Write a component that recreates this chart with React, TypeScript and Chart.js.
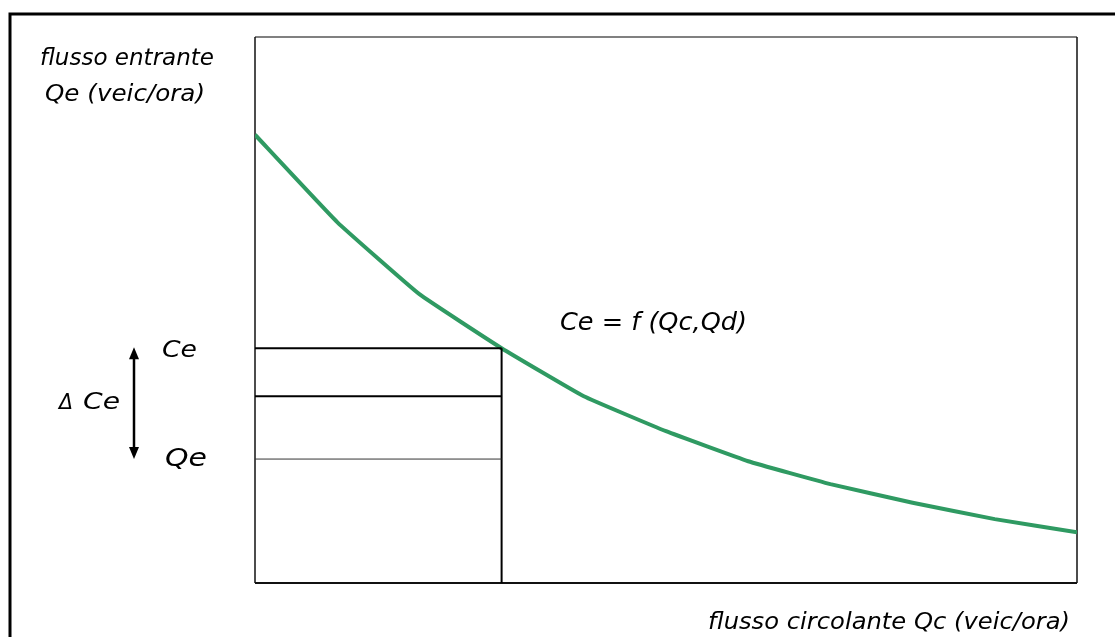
import React, { useEffect, useRef } from "react";
import { Chart, registerables } from "chart.js";

Chart.register(...registerables);

// Data
const qcSteps = [0, 1, 2, 3, 4, 5, 6, 7, 8, 9, 10];
const capacityCurve = [82.1, 66.1, 52.9, 43.0, 34.2, 27.8, 22.3, 18.1, 14.7, 11.7, 9.3];
const qcOperating = 3;
const ceValue = 43.0;
const midValue = 34.2;
const qeValue = 22.7;

const yAxisTitle = ["flusso entrante", "Qe (veic/ora)"];
const xAxisTitle = "flusso circolante Qc (veic/ora)";
const formulaLabel = "Ce = f (Qc,Qd)";
const ceLabel = "Ce";
const qeLabel = "Qe";
const deltaLabel = "ΔCe";

const GREEN = "#2f9a62";
const FONT_FAMILY = '"DejaVu Sans", sans-serif';

function drawFitted(ctx: CanvasRenderingContext2D, text: string, x: number, y: number, w: number, size: number) {
  ctx.save();
  ctx.font = `italic ${size}px ${FONT_FAMILY}`;
  const natural = ctx.measureText(text).width;
  ctx.translate(x, y);
  ctx.scale(w / natural, 1);
  ctx.textBaseline = "alphabetic";
  ctx.textAlign = "left";
  ctx.fillStyle = "#000";
  ctx.fillText(text, 0, 0);
  ctx.restore();
}

const framePlugin = {
  id: "framePlugin",
  beforeDatasetsDraw(chart: any) {
    const { ctx, chartArea } = chart;
    const { left, top, right, bottom } = chartArea;
    ctx.save();
    ctx.strokeStyle = "#808080";
    ctx.lineWidth = 2;
    ctx.beginPath();
    ctx.moveTo(left, top);
    ctx.lineTo(right, top);
    ctx.stroke();
    ctx.strokeStyle = "#111";
    ctx.lineWidth = 1.5;
    ctx.beginPath();
    ctx.moveTo(left, top);
    ctx.lineTo(left, bottom);
    ctx.stroke();
    ctx.beginPath();
    ctx.moveTo(right, top);
    ctx.lineTo(right, bottom);
    ctx.stroke();
    ctx.lineWidth = 2;
    ctx.beginPath();
    ctx.moveTo(left, bottom);
    ctx.lineTo(right, bottom);
    ctx.stroke();
    ctx.restore();
  },
  afterDraw(chart: any) {
    const { ctx, scales } = chart;
    const ys = scales.y;
    ctx.save();
    ctx.strokeStyle = "#000";
    ctx.lineWidth = 3;
    ctx.strokeRect(10, 14, 1300, 800);

    drawFitted(ctx, yAxisTitle[0], 40, 65, 174, 23);
    drawFitted(ctx, yAxisTitle[1], 45, 101, 160, 23);
    drawFitted(ctx, xAxisTitle, 708, 629, 362, 23);
    drawFitted(ctx, formulaLabel, 560, 330, 187, 24);

    const yCe = ys.getPixelForValue(ceValue);
    const yQe = ys.getPixelForValue(qeValue);
    drawFitted(ctx, ceLabel, 162, yCe + 9, 35, 23);
    drawFitted(ctx, qeLabel, 165, yQe + 7, 42, 25);
    drawFitted(ctx, deltaLabel.charAt(0), 59, 409, 14, 22);
    drawFitted(ctx, deltaLabel.slice(1), 83, 409, 37, 23);

    const ax = 134;
    ctx.strokeStyle = "#000";
    ctx.fillStyle = "#000";
    ctx.lineWidth = 2.5;
    ctx.beginPath();
    ctx.moveTo(ax, yCe + 8);
    ctx.lineTo(ax, yQe - 8);
    ctx.stroke();
    ctx.beginPath();
    ctx.moveTo(ax, yCe - 1);
    ctx.lineTo(ax - 5, yCe + 11);
    ctx.lineTo(ax + 5, yCe + 11);
    ctx.closePath();
    ctx.fill();
    ctx.beginPath();
    ctx.moveTo(ax, yQe);
    ctx.lineTo(ax - 5, yQe - 12);
    ctx.lineTo(ax + 5, yQe - 12);
    ctx.closePath();
    ctx.fill();
    ctx.restore();
  },
};

export default function App() {
  const canvasRef = useRef<HTMLCanvasElement | null>(null);

  useEffect(() => {
    document.body.style.margin = "0";
    const canvas = canvasRef.current;
    if (!canvas) return;
    const seg = (x0: number, y0: number, x1: number, y1: number) => [
      { x: x0, y: y0 },
      { x: x1, y: y1 },
    ];
    const chart = new Chart(canvas, {
      type: "line",
      data: {
        datasets: [
          {
            label: "Qe line",
            data: seg(0, qeValue, qcOperating, qeValue),
            borderColor: "#333",
            borderWidth: 1,
            pointRadius: 0,
          },
          {
            label: "mid line",
            data: seg(0, midValue, qcOperating, midValue),
            borderColor: "#000",
            borderWidth: 2,
            pointRadius: 0,
          },
          {
            label: "Ce line",
            data: seg(0, ceValue, qcOperating, ceValue),
            borderColor: "#000",
            borderWidth: 2,
            pointRadius: 0,
          },
          {
            label: "Qc line",
            data: seg(qcOperating, 0, qcOperating, ceValue),
            borderColor: "#000",
            borderWidth: 2,
            pointRadius: 0,
          },
          {
            label: "Ce = f(Qc,Qd)",
            data: qcSteps.map((x, i) => ({ x, y: capacityCurve[i] })),
            borderColor: GREEN,
            borderWidth: 4,
            pointRadius: 0,
            tension: 0.1,
          },
        ],
      },
      options: {
        animation: false,
        responsive: false,
        maintainAspectRatio: false,
        layout: { padding: { left: 255, top: 37, right: 38, bottom: 54 } },
        plugins: { legend: { display: false }, tooltip: { enabled: false } },
        scales: {
          x: { type: "linear", min: 0, max: 10, display: false },
          y: { type: "linear", min: 0, max: 100, display: false },
        },
      },
      plugins: [framePlugin],
    });
    return () => chart.destroy();
  }, []);

  return (
    <div style={{ position: "fixed", left: 0, top: 0, width: 1115, height: 637, background: "#fff" }}>
      <canvas ref={canvasRef} width={1115} height={637} />
    </div>
  );
}
